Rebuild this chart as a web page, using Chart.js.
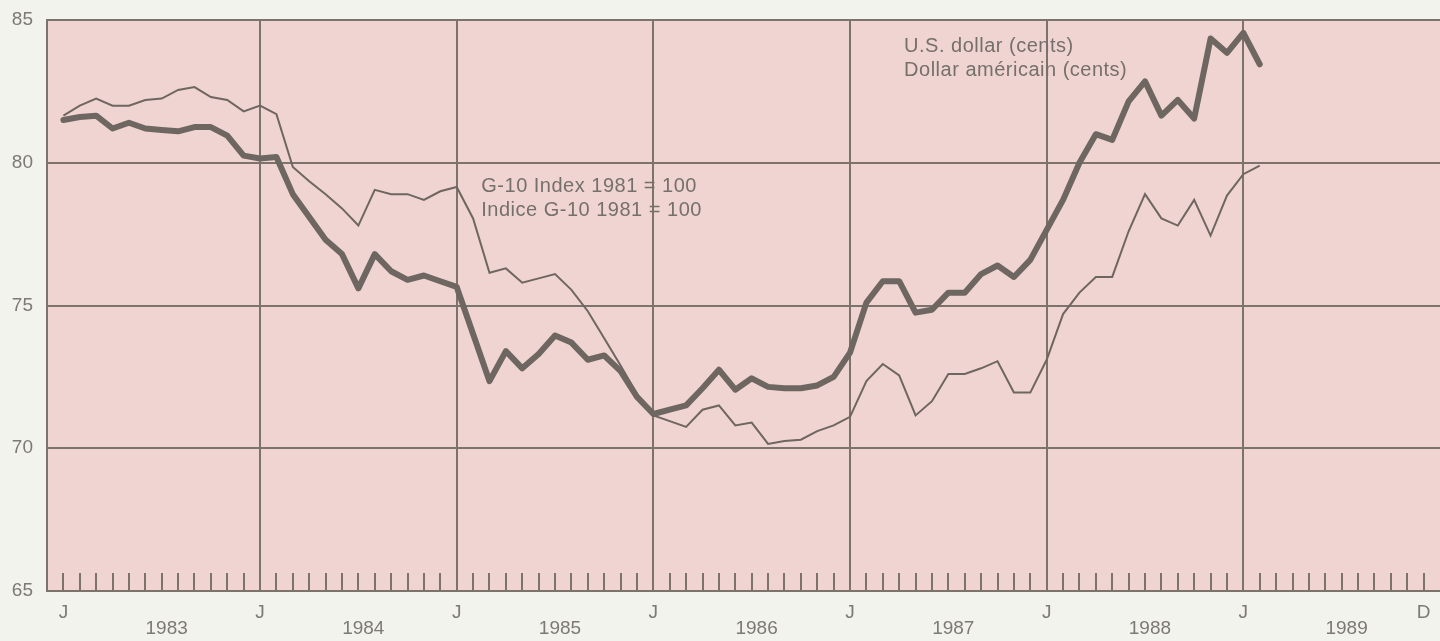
<!DOCTYPE html>
<html>
<head>
<meta charset="utf-8">
<script src="https://cdn.jsdelivr.net/npm/chart.js@4"></script>
<style>
  html, body { margin: 0; padding: 0; background: #f3f3ee; overflow: hidden; }
  #wrap { width: 1440px; height: 641px; }
</style>
</head>
<body>
<div id="wrap"><canvas id="dollarChart"></canvas></div>
<script>
// monthly values, Jan 1983 .. Feb 1989
const years = ['1983', '1984', '1985', '1986', '1987', '1988', '1989'];
const usDollar = [
  81.5, 81.6, 81.65, 81.2, 81.4, 81.2, 81.15, 81.1, 81.25, 81.25, 80.95, 80.25,
  80.15, 80.2, 78.9, 78.1, 77.3, 76.8, 75.6, 76.8, 76.2, 75.9, 76.05, 75.85,
  75.65, 74.0, 72.35, 73.4, 72.8, 73.3, 73.95, 73.7, 73.1, 73.25, 72.7, 71.8,
  71.2, 71.35, 71.5, 72.1, 72.75, 72.05, 72.45, 72.15, 72.1, 72.1, 72.2, 72.5,
  73.35, 75.1, 75.85, 75.85, 74.75, 74.85, 75.45, 75.45, 76.1, 76.4, 76.0, 76.6,
  77.65, 78.7, 80.0, 81.0, 80.8, 82.15, 82.85, 81.65, 82.2, 81.55, 84.35, 83.85,
  84.55, 83.45
];
const g10Index = [
  81.65, 82.0, 82.25, 82.0, 82.0, 82.2, 82.25, 82.55, 82.65, 82.3, 82.2, 81.8,
  82.0, 81.7, 79.85, 79.35, 78.9, 78.4, 77.8, 79.05, 78.9, 78.9, 78.7, 79.0,
  79.15, 78.05, 76.15, 76.3, 75.8, 75.95, 76.1, 75.55, 74.8, 73.85, 72.9, 71.9,
  71.15, 70.95, 70.75, 71.35, 71.5, 70.8, 70.9, 70.15, 70.25, 70.3, 70.6, 70.8,
  71.1, 72.35, 72.95, 72.55, 71.15, 71.65, 72.6, 72.6, 72.8, 73.05, 71.95, 71.95,
  73.1, 74.7, 75.45, 76.0, 76.0, 77.6, 78.9, 78.05, 77.8, 78.7, 77.45, 78.85,
  79.6, 79.9
];
const yTicks = [65, 70, 75, 80, 85];
const usdNote = ['U.S. dollar (cents)', 'Dollar américain (cents)'];
const g10Note = ['G-10 Index 1981 = 100', 'Indice G-10 1981 = 100'];

const lineColor = '#6e6660';
const gridColor = '#7c736d';
const textColor = '#7d7974';
const fontFamily = '"Liberation Sans", Arial, sans-serif';
const lastMonth = years.length * 12 - 1;

const isJanLine = v => Number.isInteger(v) && v % 12 === 0 && v > 0 && v < lastMonth;
const isMonth = v => Number.isInteger(v) && v >= 0 && v <= lastMonth;

// pink plotting area
const plotBackground = {
  id: 'plotBackground',
  beforeDraw(chart) {
    const { ctx, chartArea: a } = chart;
    ctx.save();
    ctx.fillStyle = '#f0d4d1';
    ctx.fillRect(a.left, a.top, a.right - a.left, a.bottom - a.top);
    ctx.restore();
  }
};

// series captions written inside the plot
const seriesNotes = {
  id: 'seriesNotes',
  afterDatasetsDraw(chart) {
    const { ctx, scales: { x, y } } = chart;
    ctx.save();
    ctx.font = '20px ' + fontFamily;
    ctx.letterSpacing = '0.5px';
    ctx.fillStyle = '#75706b';
    ctx.textAlign = 'left';
    ctx.textBaseline = 'alphabetic';
    const put = (lines, mx, vy) => lines.forEach((t, i) =>
      ctx.fillText(t, x.getPixelForValue(mx), y.getPixelForValue(vy) + i * 24));
    put(g10Note, 25.5, 78.98);
    put(usdNote, 51.3, 83.88);
    ctx.restore();
  }
};

const toPoints = arr => arr.map((v, i) => ({ x: i, y: v }));

new Chart(document.getElementById('dollarChart'), {
  type: 'line',
  data: {
    datasets: [
      {
        label: usdNote[0],
        data: toPoints(usDollar),
        borderColor: lineColor,
        borderWidth: 6,
        borderJoinStyle: 'round',
        borderCapStyle: 'round',
        pointRadius: 0,
        tension: 0
      },
      {
        label: g10Note[0],
        data: toPoints(g10Index),
        borderColor: lineColor,
        borderWidth: 2,
        pointRadius: 0,
        tension: 0
      }
    ]
  },
  options: {
    responsive: true,
    maintainAspectRatio: false,
    animation: false,
    layout: { padding: { top: 20, left: 0, right: 0, bottom: 0 } },
    plugins: {
      legend: { display: false },
      tooltip: { enabled: false }
    },
    scales: {
      x: {
        type: 'linear',
        min: -1,
        max: lastMonth + 1,
        afterBuildTicks(scale) {
          const ticks = [];
          for (let m = -1; m <= lastMonth + 1; m++) ticks.push({ value: m });
          years.forEach((_, k) => ticks.push({ value: k * 12 + 6.3 }));
          ticks.sort((a, b) => a.value - b.value);
          scale.ticks = ticks;
        },
        afterFit(scale) {
          scale.height = 50;
          scale.paddingRight = 0;
        },
        grid: {
          color: ctx => isJanLine(ctx.tick.value) ? gridColor : 'transparent',
          lineWidth: 2,
          tickLength: -18,
          tickWidth: 2,
          tickColor: ctx => isMonth(ctx.tick.value) ? gridColor : 'transparent'
        },
        border: { display: true, color: gridColor, width: 2 },
        ticks: {
          autoSkip: false,
          maxRotation: 0,
          padding: 32,
          color: textColor,
          font: { family: fontFamily, size: 19, lineHeight: 0.85 },
          callback(v) {
            if (!Number.isInteger(v)) return ['', years[Math.floor(v / 12)]];
            if (v >= 0 && v <= lastMonth - 11 && v % 12 === 0) return 'J';
            if (v === lastMonth) return 'D';
            return '';
          }
        }
      },
      y: {
        min: 65,
        max: 85,
        afterBuildTicks(scale) { scale.ticks = yTicks.map(v => ({ value: v })); },
        afterFit(scale) {
          scale.width = 47;
          scale.paddingTop = 0;
          scale.paddingBottom = 0;
        },
        grid: { color: gridColor, lineWidth: 2, drawTicks: false },
        border: { display: true, color: gridColor, width: 2 },
        ticks: {
          padding: 14,
          color: textColor,
          font: { family: fontFamily, size: 19 }
        }
      }
    }
  },
  plugins: [plotBackground, seriesNotes]
});
</script>
</body>
</html>
